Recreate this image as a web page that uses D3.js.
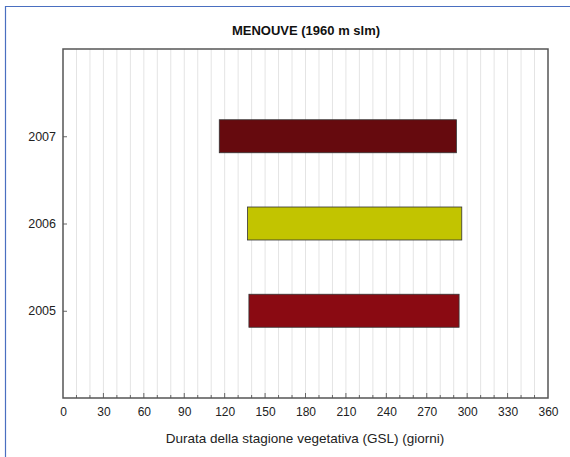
<!DOCTYPE html>
<html lang="en">
<head>
<meta charset="utf-8">
<title>MENOUVE</title>
<script src="https://d3js.org/d3.v7.min.js"></script>
<style>
body { margin: 0; background: #fff; }
svg { font-family: "Liberation Sans", Arial, sans-serif; }
.tick text { fill: #222; }
</style>
</head>
<body>
<svg width="570" height="457"></svg>
<script>
// data
var years = [2005, 2006, 2007];
var startDay = [138, 137, 116];
var endDay = [294, 296, 292];
var barColors = ["#8a0a12", "#c2c400", "#660a0e"];
var xTicks = [0, 30, 60, 90, 120, 150, 180, 210, 240, 270, 300, 330, 360];

var svg = d3.select("svg");
var pLeft = 63, pRight = 548, pTop = 49, pBottom = 398;

// outer blue border (only top/left visible)
svg.append("path")
  .attr("d", "M5.5,457 L5.5,6.5 L570,6.5")
  .attr("fill", "none")
  .attr("stroke", "#4a6fc0")
  .attr("stroke-width", 1.2);

var x = d3.scaleLinear().domain([0, 360]).range([pLeft, pRight]);
var y = d3.scaleLinear().domain([2004, 2008]).range([pBottom, pTop]);

// grid every 10 days
svg.append("g").selectAll("line")
  .data(d3.range(10, 360, 10))
  .enter().append("line")
    .attr("x1", function(d) { return x(d); })
    .attr("x2", function(d) { return x(d); })
    .attr("y1", pTop).attr("y2", pBottom)
    .attr("stroke", "#e4e4e4")
    .attr("stroke-width", 1);

// bars
var bh = 33;
svg.append("g").selectAll("rect")
  .data(years)
  .enter().append("rect")
    .attr("x", function(d, i) { return x(startDay[i]); })
    .attr("width", function(d, i) { return x(endDay[i]) - x(startDay[i]); })
    .attr("y", function(d) { return y(d) - bh / 2; })
    .attr("height", bh)
    .attr("fill", function(d, i) { return barColors[i]; })
    .attr("stroke", "#333")
    .attr("stroke-width", 0.8);

// minor ticks bottom
svg.append("g").selectAll("line")
  .data(d3.range(10, 360, 10))
  .enter().append("line")
    .attr("x1", function(d) { return x(d); })
    .attr("x2", function(d) { return x(d); })
    .attr("y1", pBottom).attr("y2", function(d) { return d % 30 == 0 ? pBottom - 5 : pBottom - 3; })
    .attr("stroke", "#666");

// x axis labels
var xAxis = d3.axisBottom(x).tickValues(xTicks).tickSize(0).tickPadding(9);
svg.append("g")
  .attr("transform", "translate(0," + pBottom + ")")
  .call(xAxis)
  .call(function(g) { g.select(".domain").remove(); })
  .selectAll("text").attr("font-size", 12);

// y axis
var yAxis = d3.axisLeft(y).tickValues(years).tickFormat(d3.format("d")).tickSize(-4).tickPadding(7);
svg.append("g")
  .attr("transform", "translate(" + pLeft + ",0)")
  .call(yAxis)
  .call(function(g) { g.select(".domain").remove(); g.selectAll(".tick line").attr("stroke", "#666"); })
  .selectAll("text").attr("font-size", 12.5);

// frame
svg.append("rect")
  .attr("x", pLeft).attr("y", pTop)
  .attr("width", pRight - pLeft).attr("height", pBottom - pTop)
  .attr("fill", "none")
  .attr("stroke", "#555")
  .attr("stroke-width", 1.5);

svg.append("text")
  .attr("x", 306).attr("y", 35)
  .attr("text-anchor", "middle")
  .attr("font-size", 13)
  .attr("font-weight", "bold")
  .attr("fill", "#111")
  .text("MENOUVE (1960 m slm)");

svg.append("text")
  .attr("x", 305).attr("y", 443)
  .attr("text-anchor", "middle")
  .attr("font-size", 13.5)
  .attr("fill", "#222")
  .text("Durata della stagione vegetativa (GSL) (giorni)");
</script>
</body>
</html>
